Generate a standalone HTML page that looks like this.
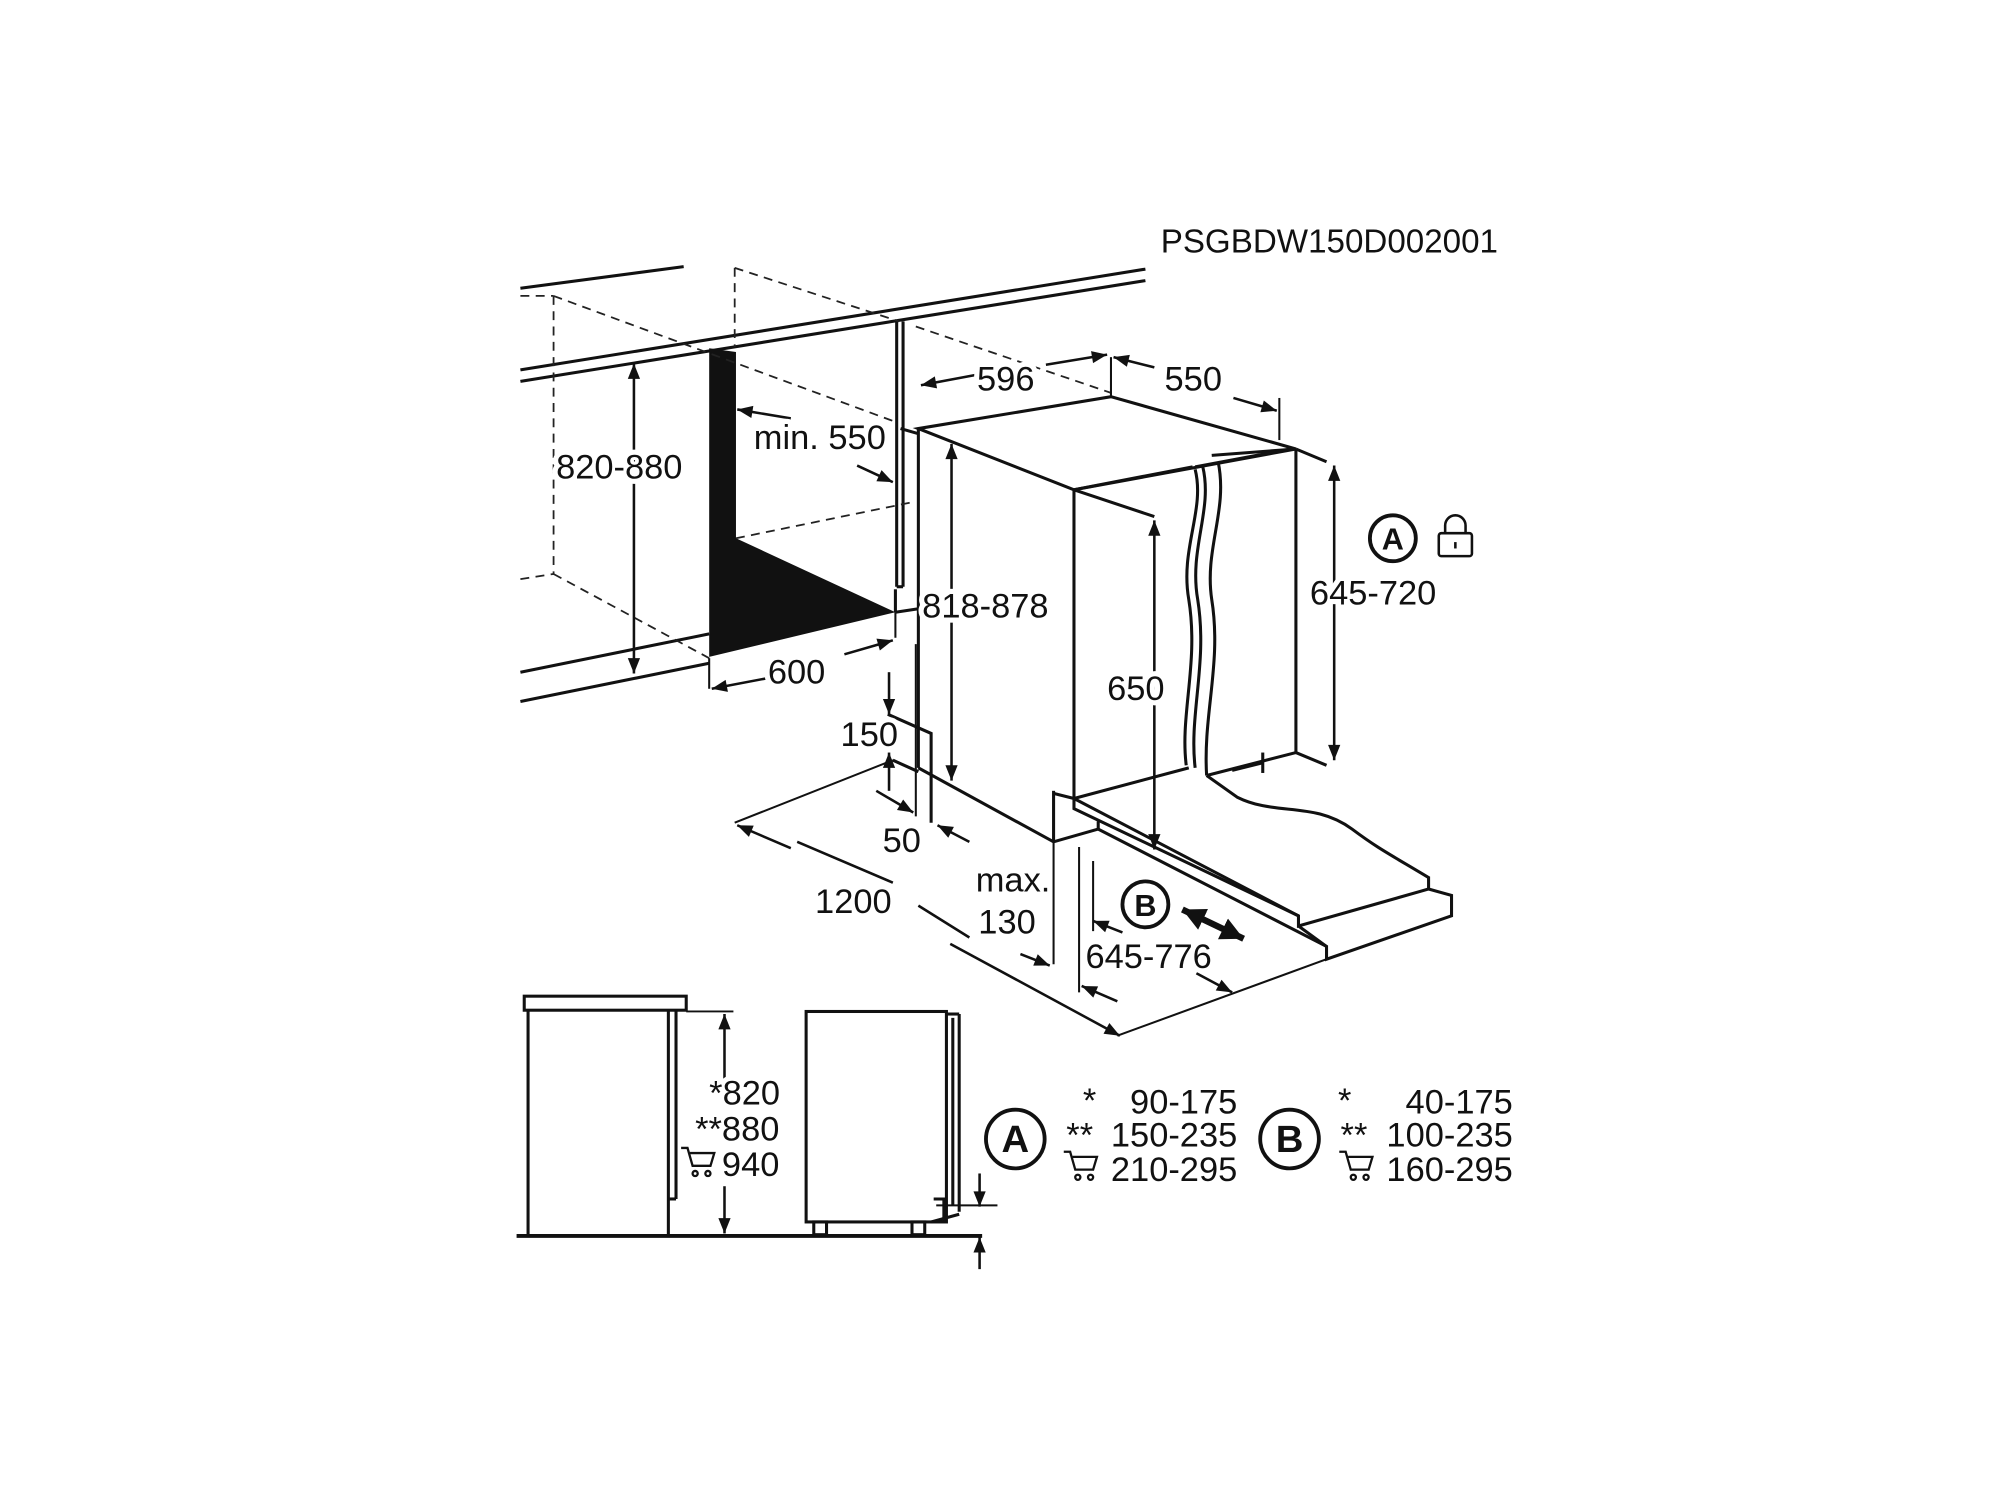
<!DOCTYPE html>
<html><head><meta charset="utf-8"><style>
html,body{margin:0;padding:0;background:#fff;width:2000px;height:1500px;overflow:hidden}
svg{display:block}
text{font-family:"Liberation Sans",sans-serif;fill:#111}
.t text{paint-order:stroke;stroke:#fff;stroke-width:8px;stroke-linejoin:round}
</style></head><body>
<svg width="2000" height="1500" viewBox="0 0 1568 1176" xmlns="http://www.w3.org/2000/svg">
<defs>
<marker id="ar" viewBox="0 0 10 10" refX="10" refY="5" markerWidth="14" markerHeight="12" markerUnits="userSpaceOnUse" orient="auto-start-reverse"><path d="M0,1 L10,5 L0,9 z" fill="#111"/></marker>
<marker id="ar2" viewBox="0 0 10 10" refX="10" refY="5" markerWidth="18" markerHeight="18" markerUnits="userSpaceOnUse" orient="auto-start-reverse"><path d="M0,0 L10,5 L0,10 z" fill="#111"/></marker>
</defs>
<rect width="1568" height="1176" fill="#fff"/>
<g stroke="#111" fill="none" stroke-width="2.4">
<line x1="408" y1="226" x2="536" y2="209"/>
<line x1="408" y1="290" x2="898" y2="211"/>
<line x1="408" y1="299" x2="898" y2="220"/>
<line x1="408" y1="527" x2="556" y2="497"/>
<line x1="408" y1="550" x2="556" y2="520"/>
<line x1="702" y1="480" x2="722" y2="477"/>
<line x1="703" y1="252" x2="703" y2="460"/>
<line x1="708" y1="252" x2="708" y2="460"/>
<line x1="703" y1="460" x2="708" y2="460"/>
<line x1="702" y1="462" x2="702" y2="480"/>
</g>
<polygon points="556,273 577,276 577,422 702,480 556,515" fill="#111"/>
<g stroke="#222" fill="none" stroke-width="1.4" stroke-dasharray="7,5">
<line x1="434" y1="232" x2="434" y2="450"/>
<line x1="408" y1="232" x2="434" y2="232"/>
<line x1="434" y1="232" x2="700" y2="330"/>
<line x1="576" y1="210" x2="576" y2="272"/>
<line x1="576" y1="210" x2="705" y2="252"/>
<line x1="718" y1="256" x2="871" y2="308"/>
<line x1="408" y1="454" x2="434" y2="450"/>
<line x1="434" y1="450" x2="556" y2="516"/>
<line x1="577" y1="422" x2="714" y2="394"/>
</g>
<g stroke="#111" fill="none" stroke-width="2.4">
<polygon points="720,336 871,311 1016,352 842,384"/>
<line x1="720" y1="336" x2="720" y2="602"/>
<line x1="842" y1="384" x2="842" y2="626"/>
<line x1="1016" y1="352" x2="1016" y2="590"/>
<line x1="842" y1="384" x2="935" y2="366"/>
<line x1="950" y1="357" x2="1016" y2="352"/>
<path d="M937,368 C945,400 925,430 932,470 C940,520 925,560 930,600"/>
<path d="M943,366 C951,400 932,430 939,470 C947,520 932,560 937,602"/>
<path d="M955,362 C963,400 944,430 950,470 C958,520 943,560 946,608"/>
<line x1="937" y1="366" x2="1012" y2="352"/>
<line x1="946" y1="608" x2="1016" y2="590"/>
<line x1="1016" y1="590" x2="1040" y2="600"/>
<line x1="1016" y1="352" x2="1040" y2="362"/>
<line x1="966" y1="604" x2="990" y2="598"/><line x1="990" y1="590" x2="990" y2="606"/>
<line x1="842" y1="384" x2="905" y2="405"/>
<line x1="842" y1="626" x2="932" y2="602"/>
<path d="M842,626 L842,634 L1018,718 L1018,726 L1120,697 L1120,688 C1090,670 1080,665 1060,650 C1030,628 1000,640 970,625 L946,608"/>
<line x1="842" y1="626" x2="1018" y2="718"/>
<path d="M861,650 L1040,742 L1040,752 L1138,718 L1138,702 L1120,697"/>
<line x1="1018" y1="726" x2="1040" y2="742"/>
<line x1="861" y1="644" x2="861" y2="650"/>
<line x1="826" y1="622" x2="842" y2="626"/>
<line x1="826" y1="620" x2="826" y2="660"/>
<line x1="826" y1="660" x2="861" y2="650"/>
<line x1="720" y1="602" x2="826" y2="660"/>
<line x1="700" y1="596" x2="720" y2="605"/>
<line x1="720" y1="340" x2="706" y2="336"/>
<polyline points="696,560 730,575 730,645"/>
<line x1="718" y1="505" x2="718" y2="640" stroke-width="1.6"/>
<line x1="846" y1="664" x2="846" y2="778" stroke-width="1.6"/>
<line x1="857" y1="675" x2="857" y2="730" stroke-width="1.6"/>
<line x1="876" y1="812" x2="1040" y2="752" stroke-width="1.6"/>
<line x1="1003" y1="312" x2="1003" y2="345" stroke-width="1.6"/>
<line x1="871" y1="280" x2="871" y2="311" stroke-width="1.6"/>
<line x1="556" y1="516" x2="556" y2="540" stroke-width="1.6"/>
<line x1="702" y1="480" x2="702" y2="500" stroke-width="1.6"/>
<line x1="826" y1="660" x2="826" y2="756" stroke-width="1.6"/>
<line x1="576" y1="645" x2="700" y2="596" stroke-width="1.6"/>
</g>
<g stroke="#111" stroke-width="2" fill="none" marker-start="url(#ar)" marker-end="url(#ar)">
<line x1="497" y1="285" x2="497" y2="528"/>
<line x1="746" y1="348" x2="746" y2="612"/>
<line x1="905" y1="408" x2="905" y2="666"/>
<line x1="1046" y1="365" x2="1046" y2="596"/>
</g>
<g stroke="#111" stroke-width="2" fill="none" marker-end="url(#ar)">
<line x1="620" y1="328" x2="578" y2="321"/>
<line x1="672" y1="365" x2="700" y2="378"/>
<line x1="600" y1="532" x2="558" y2="540"/>
<line x1="662" y1="513" x2="700" y2="502"/>
<line x1="770" y1="293" x2="722" y2="302"/>
<line x1="820" y1="286" x2="868" y2="278"/>
<line x1="905" y1="288" x2="873" y2="280"/>
<line x1="967" y1="312" x2="1001" y2="322"/>
<line x1="697" y1="527" x2="697" y2="560"/>
<line x1="697" y1="620" x2="697" y2="590"/>
<line x1="687" y1="620" x2="716" y2="637"/>
<line x1="760" y1="660" x2="735" y2="647"/>
<line x1="620" y1="665" x2="578" y2="647"/>
<line x1="745" y1="740" x2="878" y2="812"/>
<line x1="800" y1="748" x2="823" y2="757"/>
<line x1="880" y1="731" x2="857" y2="722"/>
<line x1="876" y1="785" x2="848" y2="773"/>
<line x1="938" y1="763" x2="966" y2="778"/>
<line x1="568" y1="853" x2="568" y2="795"/>
<line x1="568" y1="930" x2="568" y2="967"/>
<line x1="768" y1="920" x2="768" y2="946"/>
<line x1="768" y1="995" x2="768" y2="970"/>
</g>
<line x1="625" y1="660" x2="700" y2="692" stroke="#111" stroke-width="2"/>
<line x1="720" y1="710" x2="760" y2="735" stroke="#111" stroke-width="2"/>
<line x1="927" y1="713" x2="975" y2="736" stroke="#111" stroke-width="5" marker-start="url(#ar2)" marker-end="url(#ar2)"/>
<g font-size="27" class="t">
<text x="910" y="198" font-size="26">PSGBDW150D002001</text>
<text x="436" y="375">820-880</text>
<text x="591" y="352">min. 550</text>
<text x="602" y="536">600</text>
<text x="723" y="484">818-878</text>
<text x="766" y="306">596</text>
<text x="913" y="306">550</text>
<text x="1027" y="474">645-720</text>
<text x="868" y="549">650</text>
<text x="659" y="585">150</text>
<text x="692" y="668">50</text>
<text x="639" y="716">1200</text>
<text x="765" y="699">max.</text>
<text x="767" y="732">130</text>
<text x="851" y="759">645-776</text>
</g>
<g stroke="#111" stroke-width="3" fill="none">
<circle cx="1092" cy="422" r="18"/>
<circle cx="898" cy="709" r="18"/>
<circle cx="796" cy="893" r="23"/>
<circle cx="1011" cy="893" r="23"/>
</g>
<g font-weight="bold" text-anchor="middle">
<text x="1092" y="431" font-size="24">A</text>
<text x="898" y="718" font-size="24">B</text>
<text x="796" y="903" font-size="30">A</text>
<text x="1011" y="903" font-size="30">B</text>
</g>
<g stroke="#111" stroke-width="2" fill="none">
<rect x="1128" y="418" width="26" height="18" rx="2"/>
<path d="M1133,418 v-6 a8,8 0 0 1 16,0 v6"/>
<line x1="1141" y1="425" x2="1141" y2="430"/>
</g>
<g stroke="#111" stroke-width="2.4" fill="none">
<line x1="405" y1="969" x2="770" y2="969" stroke-width="3"/>
<rect x="411" y="781" width="127" height="11"/>
<line x1="414" y1="792" x2="414" y2="969"/>
<line x1="524" y1="792" x2="524" y2="969"/>
<line x1="530" y1="792" x2="530" y2="940"/>
<line x1="524" y1="940" x2="530" y2="940"/>
<line x1="538" y1="793" x2="575" y2="793" stroke-width="1.5"/>
<rect x="632" y="793" width="110" height="165"/>
<line x1="742" y1="795" x2="752" y2="795"/>
<line x1="752" y1="795" x2="752" y2="950"/>
<line x1="747" y1="798" x2="747" y2="945"/>
<polyline points="732,940 740,940 740,958"/>
<line x1="734" y1="945" x2="782" y2="945" stroke-width="1.5"/>
<line x1="730" y1="958" x2="752" y2="952"/>
<rect x="638" y="958" width="10" height="10"/>
<rect x="715" y="958" width="10" height="10"/>
</g>
<g font-size="27" class="t">
<text x="556" y="866">*820</text>
<text x="545" y="894">**880</text>
<text x="566" y="922">940</text>
<text x="849" y="872">*</text>
<text x="970" y="873" text-anchor="end">90-175</text>
<text x="836" y="899">**</text>
<text x="970" y="899" text-anchor="end">150-235</text>
<text x="970" y="926" text-anchor="end">210-295</text>
<text x="1049" y="872">*</text>
<text x="1186" y="873" text-anchor="end">40-175</text>
<text x="1051" y="899">**</text>
<text x="1186" y="899" text-anchor="end">100-235</text>
<text x="1186" y="926" text-anchor="end">160-295</text>
</g>
<g stroke="#111" stroke-width="1.8" fill="none">
<path d="M534,900 h5 l4,14 h14 l3,-10 h-19"/><circle cx="545" cy="920" r="2"/><circle cx="555" cy="920" r="2"/>
<path d="M834,903 h5 l4,14 h14 l3,-10 h-19"/><circle cx="845" cy="923" r="2"/><circle cx="855" cy="923" r="2"/>
<path d="M1050,903 h5 l4,14 h14 l3,-10 h-19"/><circle cx="1061" cy="923" r="2"/><circle cx="1071" cy="923" r="2"/>
</g>
</svg>
</body></html>
